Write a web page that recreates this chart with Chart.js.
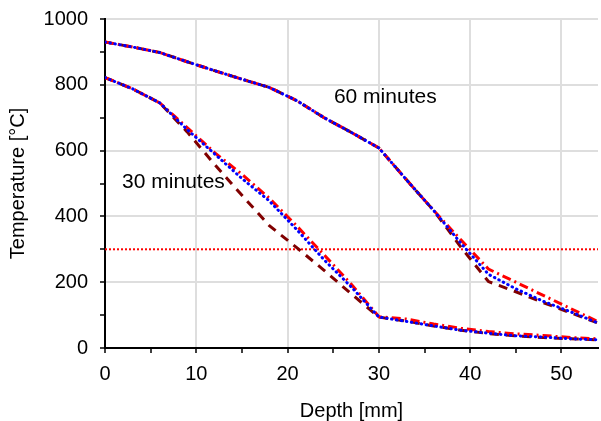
<!DOCTYPE html>
<html>
<head>
<meta charset="utf-8">
<script src="https://cdn.jsdelivr.net/npm/chart.js@4.4.0/dist/chart.umd.min.js"></script>
<style>
  body { margin: 0; background: #fff; }
  #wrap { width: 601px; height: 421px; }
</style>
</head>
<body>
<div id="wrap"><canvas id="tempChart" width="601" height="421"></canvas></div>
<script>
// --------------------------------
// Data (depth in mm, temperature in °C)
// --------------------------------
const depth = [0, 3, 6, 9, 12, 15, 18, 21, 24, 27, 30, 33, 36, 39, 42, 45, 48, 51, 54];

// 30 minutes exposure
const dashed30  = [822, 788, 745, 657, 558, 464, 372, 305, 236, 164, 94, 82, 67, 54, 44, 37, 32, 28, 25];
const dashDot30 = [822, 788, 745, 670, 594, 528, 455, 371, 283, 193, 95, 88, 73, 60, 50, 43, 38, 32, 28];
const dotted30  = [822, 788, 745, 664, 590, 515, 447, 360, 268, 185, 94, 81, 67, 54, 45, 37, 33, 28, 25];

// 60 minutes exposure
const dashed60  = [930, 915, 898, 870, 843, 817, 792, 752, 700, 655, 608, 512, 418, 306, 202, 171, 138, 107, 76];
const dashDot60 = [930, 915, 898, 870, 843, 817, 792, 752, 700, 655, 608, 512, 418, 328, 240, 200, 160, 120, 80];
const dotted60  = [930, 915, 898, 870, 843, 817, 792, 752, 700, 655, 608, 512, 418, 318, 224, 180, 142, 110, 76];

// critical temperature line
const limitDepth = [0, 54];
const limitTemp = [300, 300];

// text labels placed in data coordinates [depth, temperature, text]
const curveLabels = [
    [30.7, 761, '60 minutes'],
    [7.5, 505, '30 minutes']
];

const FONT = '"Liberation Sans", Arial, sans-serif';

function toPoints(xs, ys){
    return xs.map((x, i) => ({x: x, y: ys[i]}));
}

// Writes the "30 minutes" / "60 minutes" labels inside the plot
const labelPlugin = {
    id: 'curveLabels',
    beforeDatasetsDraw(chart){
        const c = chart.ctx;
        const xs = chart.scales.x;
        const ys = chart.scales.y;
        c.save();
        c.font = '21px ' + FONT;
        c.fillStyle = '#000';
        c.textAlign = 'center';
        c.textBaseline = 'middle';
        curveLabels.forEach(l => {
            c.fillText(l[2], xs.getPixelForValue(l[0]), ys.getPixelForValue(l[1]));
        });
        c.restore();
    }
};

// dataset styles: index 0 is drawn on top
function lineSet(data, color, dash, cap){
    return {
        data: data,
        borderColor: color,
        borderWidth: 3,
        borderDash: dash,
        borderCapStyle: cap,
        pointRadius: 0,
        fill: false,
        tension: 0
    };
}

const ctx = document.getElementById('tempChart').getContext('2d');
const tempChart = new Chart(ctx, {
    type: 'line',
    data: {
        datasets: [
            lineSet(toPoints(depth, dotted60), '#0000ff', [0.5, 4.5], 'round'),
            lineSet(toPoints(depth, dotted30), '#0000ff', [0.5, 4.5], 'round'),
            lineSet(toPoints(depth, dashDot60), '#ff0000', [9, 4, 2, 4], 'butt'),
            lineSet(toPoints(depth, dashDot30), '#ff0000', [9, 4, 2, 4], 'butt'),
            lineSet(toPoints(depth, dashed60), '#800000', [9, 7], 'butt'),
            lineSet(toPoints(depth, dashed30), '#800000', [9, 7], 'butt'),
            {
                data: toPoints(limitDepth, limitTemp),
                borderColor: '#ff0000',
                borderWidth: 2,
                borderDash: [2, 2],
                pointRadius: 0,
                fill: false
            }
        ]
    },
    options: {
        responsive: false,
        animation: false,
        events: [],
        layout: {
            padding: {top: 19, right: 3, left: 0, bottom: 0}
        },
        plugins: {
            legend: {display: false},
            tooltip: {enabled: false}
        },
        scales: {
            x: {
                type: 'linear',
                min: 0,
                max: 54,
                afterFit: (scale) => {
                    scale.height = 73;
                    scale.paddingLeft = 0;
                    scale.paddingRight = 0;
                },
                border: {color: '#000', width: 2},
                grid: {
                    color: (c) => (c.tick && c.tick.value % 10 === 0 && c.tick.value > 0) ? '#dedede' : 'rgba(0,0,0,0)',
                    tickColor: (c) => (c.tick && c.tick.value % 5 === 0) ? '#000' : 'rgba(0,0,0,0)',
                    lineWidth: 2,
                    tickWidth: 1.5,
                    tickLength: 5
                },
                ticks: {
                    stepSize: 5,
                    autoSkip: false,
                    maxRotation: 0,
                    padding: 9,
                    color: '#000',
                    font: {family: FONT, size: 20},
                    callback: (v) => (v % 10 === 0 ? v : '')
                },
                title: {
                    display: true,
                    text: 'Depth [mm]',
                    color: '#000',
                    font: {family: FONT, size: 20, lineHeight: 1},
                    padding: {top: 0, bottom: 0}
                }
            },
            y: {
                min: 0,
                max: 1000,
                afterFit: (scale) => {
                    scale.width = 105;
                    scale.paddingTop = 0;
                    scale.paddingBottom = 0;
                },
                border: {color: '#000', width: 2},
                grid: {
                    color: (c) => (c.tick && c.tick.value % 200 === 0 && c.tick.value > 0) ? '#dedede' : 'rgba(0,0,0,0)',
                    tickColor: '#000',
                    lineWidth: 2,
                    tickWidth: 1.5,
                    tickLength: 5
                },
                ticks: {
                    stepSize: 100,
                    autoSkip: false,
                    padding: 12,
                    color: '#000',
                    font: {family: FONT, size: 20},
                    callback: (v) => (v % 200 === 0 ? v : '')
                },
                title: {
                    display: true,
                    text: 'Temperature [°C]',
                    color: '#000',
                    font: {family: FONT, size: 20, lineHeight: 1},
                    padding: {top: 8, bottom: 0}
                }
            }
        }
    },
    plugins: [labelPlugin]
});
</script>
</body>
</html>
